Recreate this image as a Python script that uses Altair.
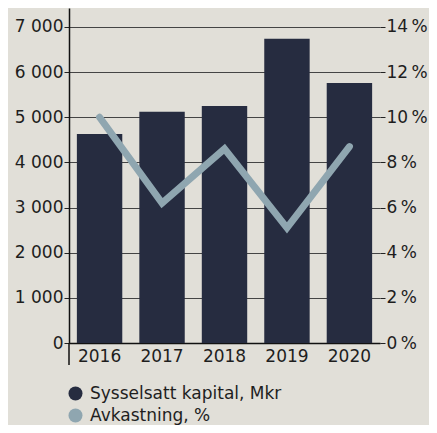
import altair as alt
import pandas as pd

years = ["2016", "2017", "2018", "2019", "2020"]
capital = [4630, 5120, 5250, 6740, 5760]
returns = [10.0, 6.2, 8.6, 5.1, 8.7]
series_names = ["Sysselsatt kapital, Mkr", "Avkastning, %"]
left_ticks = [0, 1000, 2000, 3000, 4000, 5000, 6000, 7000]
right_ticks = [0, 2, 4, 6, 8, 10, 12, 14]

DARK = "#262c40"
GRAY = "#8fa6b0"
BG = "#e1dfd8"
TXT = "#1e1e1e"
FONT = "DejaVu Sans"
FS = 17
W, H = 311, 335

df = pd.DataFrame({"year": years, "capital": capital, "returns": returns,
                   "series": series_names[0]})

x = alt.X("year:O", title=None,
          scale=alt.Scale(paddingInner=0.273, paddingOuter=0.126),
          axis=alt.Axis(labelAngle=0, ticks=False, domain=True, domainColor="#111",
                        domainWidth=1.5, labelPadding=5, labelFontSize=FS,
                        labelColor=TXT, labelFont=FONT))

bars = alt.Chart(df).mark_bar().encode(
    x=x,
    y=alt.Y("capital:Q", title=None,
            scale=alt.Scale(domain=[0, 7420], nice=False),
            axis=alt.Axis(values=left_ticks,
                          labelExpr="replace(format(datum.value, ','), ',', ' ')",
                          grid=True, gridColor="#444", gridWidth=1,
                          tickColor="#222", tickSize=5, labelPadding=1,
                          domain=True, domainColor="#111", domainWidth=1.5,
                          labelFontSize=FS, labelColor=TXT, labelFont=FONT)),
    color=alt.Color("series:N",
                    scale=alt.Scale(domain=series_names, range=[DARK, GRAY]),
                    legend=alt.Legend(title=None, orient="none", legendX=-2, legendY=377,
                                      direction="vertical", symbolType="circle",
                                      symbolSize=196, symbolStrokeWidth=0,
                                      labelFontSize=FS, labelFont=FONT, labelColor=TXT,
                                      labelOffset=6, rowPadding=4, padding=0,
                                      labelLimit=400)),
)

line = alt.Chart(df).mark_line(color=GRAY, strokeWidth=7, strokeCap="round",
                               strokeJoin="miter").encode(
    x=x,
    y=alt.Y("returns:Q", title=None,
            scale=alt.Scale(domain=[0, 14.84], nice=False),
            axis=alt.Axis(orient="right", values=right_ticks,
                          labelExpr="datum.value + '\u2009%'", grid=False, domain=False,
                          tickColor="#222", tickSize=5, labelPadding=1,
                          labelFontSize=FS, labelColor=TXT, labelFont=FONT)),
)

ext = alt.Chart(alt.Data(values=[{}])).mark_rule(color="#111", strokeWidth=1.5).encode(
    x=alt.value(0), y=alt.value(H), y2=alt.value(H + 22))

chart = alt.layer(bars, line, ext).resolve_scale(y="independent").properties(
    width=W, height=H, background=BG,
    autosize=alt.AutoSizeParams(type="none"),
    padding={"left": 61, "top": 0, "right": 49, "bottom": 82},
).configure_view(stroke=None)

chart.save("out.html", embed_options={"renderer": "svg", "actions": False})
